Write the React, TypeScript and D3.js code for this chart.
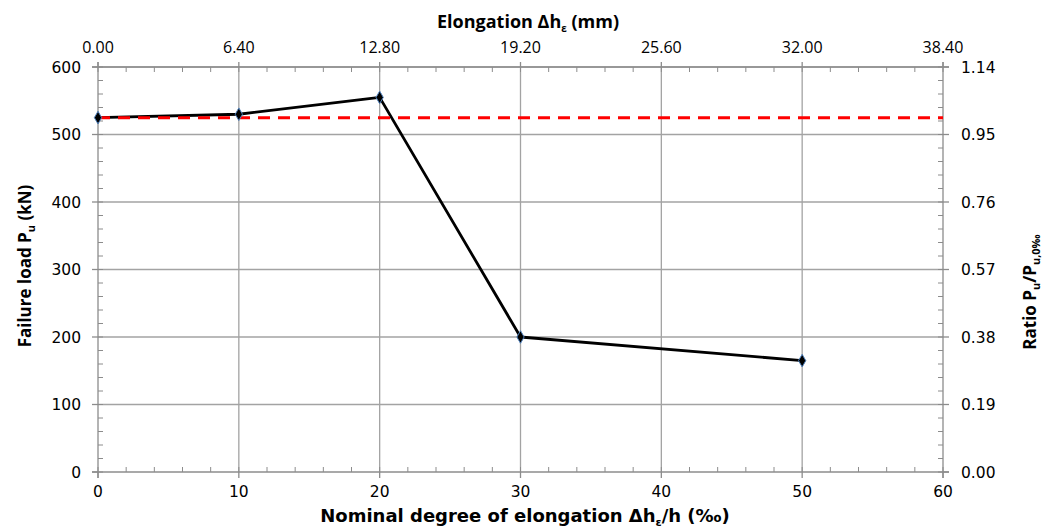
import React from "react";
import * as d3 from "d3";

const nominalElongation = [0, 10, 20, 30, 50];
const failureLoad = [525, 530, 555, 200, 165];
const referenceLoad = 525;

const xTicks = [0, 10, 20, 30, 40, 50, 60];
const yTicks = [0, 100, 200, 300, 400, 500, 600];
const topTicks = [0, 6.4, 12.8, 19.2, 25.6, 32.0, 38.4];
const topTickLabels = ["0.00", "6.40", "12.80", "19.20", "25.60", "32.00", "38.40"];
const rightTicks = [0, 0.19, 0.38, 0.57, 0.76, 0.95, 1.14];
const rightTickLabels = ["0.00", "0.19", "0.38", "0.57", "0.76", "0.95", "1.14"];

const W = 1045;
const H = 531;
const L = 98;
const R = 943;
const T = 67;
const B = 472;

const AXIS = "#8c8c8c";
const GRID = "#a3a3a3";
const TICKFONT = "'DejaVu Sans', Verdana, sans-serif";
const NARROW = "'Liberation Sans Narrow', 'Arial Narrow', 'Open Sans', sans-serif";

export default function App() {
  const x = d3.scaleLinear().domain([0, 60]).range([L, R]);
  const xTop = d3.scaleLinear().domain([0, 38.4]).range([L, R]);
  const y = d3.scaleLinear().domain([0, 600]).range([B, T]);
  const yR = d3.scaleLinear().domain([0, 1.14]).range([B, T]);

  const xMinor = d3.range(0, 60.001, 2);
  const yMinor = d3.range(0, 600.001, 20);
  const topMinor = d3.range(0, 38.4001, 1.28);
  const rMinor = d3.range(0, 1.14001, 0.038);

  const line = d3
    .line<number>()
    .x((_, i) => x(nominalElongation[i]))
    .y((d) => y(d));

  const diamond = d3.symbol().type(d3.symbolDiamond).size(46)();

  return (
    <svg
      width={W}
      height={H}
      style={{ position: "absolute", left: 0, top: 0, background: "#fff" }}
    >
      <rect x={0} y={0} width={W} height={H} fill="#fff" />
      {/* gridlines */}
      {yTicks.slice(1).map((t) => (
        <line key={"gy" + t} x1={L} x2={R} y1={y(t)} y2={y(t)} stroke={GRID} strokeWidth={1.3} />
      ))}
      {xTicks.slice(1, -1).map((t) => (
        <line key={"gx" + t} x1={x(t)} x2={x(t)} y1={T} y2={B} stroke={GRID} strokeWidth={1.3} />
      ))}

      {/* axes lines */}
      <line x1={L - 6} x2={R + 6} y1={B} y2={B} stroke={AXIS} strokeWidth={1.3} />
      <line x1={L - 6} x2={R + 6} y1={T} y2={T} stroke={AXIS} strokeWidth={1.3} />
      <line x1={L} x2={L} y1={T - 5} y2={B + 6} stroke={AXIS} strokeWidth={1.3} />
      <line x1={R} x2={R} y1={T - 5} y2={B + 6} stroke={AXIS} strokeWidth={1.3} />

      {/* bottom ticks */}
      {xMinor.map((t) => (
        <line key={"bm" + t} x1={x(t)} x2={x(t)} y1={B} y2={B - 5} stroke={AXIS} />
      ))}
      {xTicks.map((t) => (
        <line key={"bM" + t} x1={x(t)} x2={x(t)} y1={B} y2={B + 6} stroke={AXIS} strokeWidth={1.3} />
      ))}
      {xTicks.map((t) => (
        <text key={"bl" + t} x={x(t)} y={497} textAnchor="middle" fontFamily={TICKFONT} fontSize={15.5} fill="#000">
          {t}
        </text>
      ))}

      {/* top ticks */}
      {topMinor.map((t) => (
        <line key={"tm" + t} x1={xTop(t)} x2={xTop(t)} y1={T} y2={T + 5} stroke={AXIS} />
      ))}
      {topTicks.map((t) => (
        <line key={"tM" + t} x1={xTop(t)} x2={xTop(t)} y1={T} y2={T - 5} stroke={AXIS} strokeWidth={1.3} />
      ))}
      {topTicks.map((t, i) => (
        <text key={"tl" + t} x={xTop(t)} y={53} textAnchor="middle" fontFamily="'Open Sans', sans-serif" fontSize={16} fill="#000">
          {topTickLabels[i]}
        </text>
      ))}

      {/* left ticks */}
      {yMinor.map((t) => (
        <line key={"lm" + t} x1={L} x2={L + 5} y1={y(t)} y2={y(t)} stroke={AXIS} />
      ))}
      {yTicks.map((t) => (
        <line key={"lM" + t} x1={L - 6} x2={L} y1={y(t)} y2={y(t)} stroke={AXIS} strokeWidth={1.3} />
      ))}
      {yTicks.map((t) => (
        <text key={"ll" + t} x={81} y={y(t)} dy="0.36em" textAnchor="end" fontFamily={TICKFONT} fontSize={15.5} fill="#000">
          {t}
        </text>
      ))}

      {/* right ticks */}
      {rMinor.map((t) => (
        <line key={"rm" + t} x1={R - 5} x2={R} y1={yR(t)} y2={yR(t)} stroke={AXIS} />
      ))}
      {rightTicks.map((t) => (
        <line key={"rM" + t} x1={R} x2={R + 6} y1={yR(t)} y2={yR(t)} stroke={AXIS} strokeWidth={1.3} />
      ))}
      {rightTicks.map((t, i) => (
        <text key={"rl" + t} x={961} y={yR(t)} dy="0.36em" textAnchor="start" fontFamily={TICKFONT} fontSize={15.5} fill="#000">
          {rightTickLabels[i]}
        </text>
      ))}

      {/* data line */}
      <path d={line(failureLoad) || ""} fill="none" stroke="#000" strokeWidth={2.8} strokeLinejoin="round" />

      {/* reference dashed line */}
      <line
        x1={x(0)}
        x2={R}
        y1={y(referenceLoad)}
        y2={y(referenceLoad)}
        stroke="#ff0000"
        strokeWidth={3}
        strokeDasharray="12 8"
      />

      {/* markers */}
      {failureLoad.map((v, i) => (
        <path
          key={"m" + i}
          d={diamond || ""}
          transform={`translate(${x(nominalElongation[i])},${y(v)})`}
          fill="#000"
          stroke="#4f81bd"
          strokeWidth={1}
        />
      ))}

      {/* titles */}
      <text x={528} y={28} textAnchor="middle" fontFamily="'Open Sans', sans-serif" fontWeight="bold" fontSize={18} fill="#000">
        Elongation Δh
        <tspan dy={4} fontSize={10}>ε</tspan>
        <tspan dy={-4}> (mm)</tspan>
      </text>
      <text x={525} y={522} textAnchor="middle" fontFamily={TICKFONT} fontWeight="bold" fontSize={18} fill="#000">
        Nominal degree of elongation Δh
        <tspan dy={4} fontSize={11}>ε</tspan>
        <tspan dy={-4}>/h (‰)</tspan>
      </text>
      <text
        transform={`translate(31,${266}) rotate(-90)`}
        textAnchor="middle"
        fontFamily={NARROW}
        fontWeight="bold"
        fontSize={17}
        fill="#000"
      >
        Failure load P
        <tspan dy={4} fontSize={11}>u</tspan>
        <tspan dy={-4}> (kN)</tspan>
      </text>
      <text
        transform={`translate(1036,${292}) rotate(-90)`}
        textAnchor="middle"
        fontFamily={NARROW}
        fontWeight="bold"
        fontSize={17}
        fill="#000"
      >
        Ratio P
        <tspan dy={4} fontSize={11}>u</tspan>
        <tspan dy={-4}>/P</tspan>
        <tspan dy={4} fontSize={11}>u,0‰</tspan>
      </text>
    </svg>
  );
}
